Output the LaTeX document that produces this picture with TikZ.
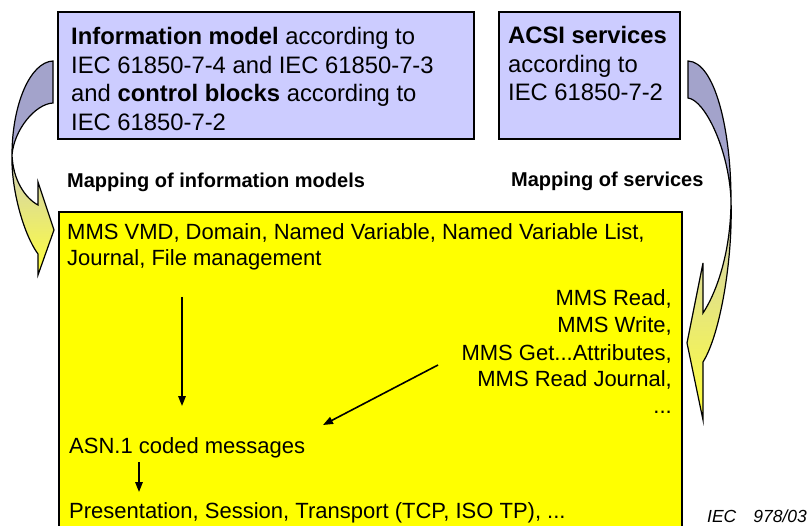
\documentclass[tikz,border=0pt]{standalone}
\usepackage{fontspec}
\setmainfont{Liberation Sans}
\usetikzlibrary{arrows.meta}
\definecolor{lav}{HTML}{CCCCFF}
\definecolor{backface}{HTML}{A3A3CB}
\definecolor{fronttop}{HTML}{CFCFBC}
\definecolor{frontmid}{HTML}{F0F09A}
\definecolor{frontbot}{HTML}{FFFF38}
\definecolor{yel}{HTML}{FFFF00}
\begin{document}
\begin{tikzpicture}[x=1pt,y=-1pt,
  bluebox/.style={draw=black,line width=1.6pt,fill=lav},
  yelbox/.style={draw=black,line width=1.8pt,fill=yel},
  bigtxt/.style={inner sep=0pt,font=\fontsize{23.8}{28.5}\selectfont},
  midtxt/.style={inner sep=0pt,font=\fontsize{22}{26.5}\selectfont},
  maptxt/.style={inner sep=0pt,font=\fontsize{20}{24}\selectfont\bfseries},
  flowarrow/.style={line width=1.6pt,-{Triangle[length=10pt,width=7.5pt]}},
  backpart/.style={draw=black,line width=1.2pt,fill=backface},
  frontpart/.style={draw=black,line width=1.2pt,top color=fronttop,middle color=frontmid,bottom color=frontbot}]
\useasboundingbox (0,0) rectangle (808,526);
\clip (0,0) rectangle (808,526);
\fill[white] (0,0) rectangle (808,526);

% boxes
\draw[bluebox] (58,12) rectangle (474,139);
\draw[bluebox] (499,12) rectangle (680,139);
\draw[yelbox] (59,212) rectangle (682,560);

% left curved arrow
\path[backpart] (53,61) .. controls (30,62) and (12,105) .. (12,155)
  .. controls (14,130) and (35,104) .. (53,103) -- cycle;
\path[frontpart] (12,155) .. controls (11,190) and (24,235) .. (38,254)
  -- (38,275) -- (54,230) -- (38,182) -- (38,205)
  .. controls (25,198) and (13,180) .. (12,155) -- cycle;

% right curved arrow
\path[backpart] (688,61) .. controls (715,62) and (731,130) .. (731,200)
  .. controls (729,150) and (705,100) .. (688,98) -- cycle;
\path[frontpart] (731,200) .. controls (733,260) and (720,335) .. (703,362)
  -- (703,420) -- (687,343) -- (703,263) -- (703,313)
  .. controls (715,295) and (731,255) .. (731,200) -- cycle;

% box 1 text
\node[bigtxt,anchor=base west] (im1) at (71,45) {\textbf{Information model} according to};
\node[bigtxt,anchor=base west] (im2) at (71,73.5) {IEC 61850-7-4 and IEC 61850-7-3};
\node[bigtxt,anchor=base west] (im3) at (71,102) {and \textbf{control blocks} according to};
\node[bigtxt,anchor=base west] (im4) at (71,130.5) {IEC 61850-7-2};

% box 2 text
\node[bigtxt,anchor=base west] (ac1) at (508,44) {\textbf{ACSI services}};
\node[bigtxt,anchor=base west] (ac2) at (508,72.5) {according to};
\node[bigtxt,anchor=base west] (ac3) at (508,101) {IEC 61850-7-2};

% mapping labels
\node[maptxt,anchor=base west] (mapim) at (67,188) {Mapping of information models};
\node[maptxt,anchor=base west] (mapsv) at (511,187) {Mapping of services};

% yellow box text
\node[midtxt,anchor=base west] (mms1) at (67,240) {MMS VMD, Domain, Named Variable, Named Variable List,};
\node[midtxt,anchor=base west] (mms2) at (67,266) {Journal, File management};
\node[midtxt,anchor=base east] (sv1) at (672,306) {MMS Read,};
\node[midtxt,anchor=base east] (sv2) at (672,333) {MMS Write,};
\node[midtxt,anchor=base east] (sv3) at (672,360) {MMS Get...Attributes,};
\node[midtxt,anchor=base east] (sv4) at (672,386) {MMS Read Journal,};
\node[midtxt,anchor=base east] (sv5) at (672,413) {...};
\node[midtxt,anchor=base west] (asn) at (69,453) {ASN.1 coded messages};
\node[midtxt,anchor=base west] (pst) at (69,518) {Presentation, Session, Transport (TCP, ISO TP), ...};

% flow arrows
\coordinate (a1s) at (182,297);
\coordinate (a1e) at (182,406);
\coordinate (a2s) at (438,365);
\coordinate (a2e) at (323,425);
\coordinate (a3s) at (139,462);
\coordinate (a3e) at (139,492);
\draw[flowarrow] (a1s) -- (a1e);
\draw[flowarrow] (a2s) -- (a2e);
\draw[flowarrow] (a3s) -- (a3e);

% figure number
\node[inner sep=0pt,anchor=base west,font=\fontsize{17.5}{20}\selectfont\itshape] (fig) at (707,522) {IEC\hspace{17pt}978/03};
\end{tikzpicture}
\end{document}
